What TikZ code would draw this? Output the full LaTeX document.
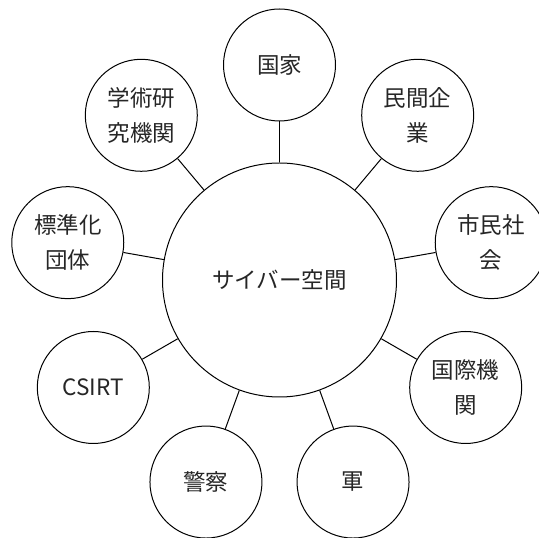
\documentclass[tikz,border=0pt]{standalone}
\usepackage{fontspec}
\setmainfont{Noto Sans CJK JP}
\begin{document}
\begin{tikzpicture}[x=1pt,y=1pt,
  every node/.style={font=\fontsize{22.5}{35}\selectfont, text=black!85},
  hub/.style={circle, draw=black, line width=1pt, minimum size=234pt, inner sep=0pt},
  sat/.style={circle, draw=black, line width=1pt, minimum size=112pt, inner sep=0pt, align=center},
  link/.style={draw=black, line width=1pt}]
\useasboundingbox (0,0) rectangle (539,538);
\node[hub] (c) at (279.5,258) {サイバー空間};
\foreach \nm/\ang/\txt in {
  kokka/90/{国家},
  minkan/50/{民間企\\業},
  shimin/10/{市民社\\会},
  kokusai/-30/{国際機\\関},
  gun/-70/{軍},
  keisatsu/-110/{警察},
  csirt/-150/{CSIRT},
  hyojun/170/{標準化\\団体},
  gakujutsu/130/{学術研\\究機関}}{
  \node[sat] (\nm) at ([shift={(\ang:215)}]c.center) {\txt};
  \draw[link] (c) -- (\nm);
}
\end{tikzpicture}
\end{document}
